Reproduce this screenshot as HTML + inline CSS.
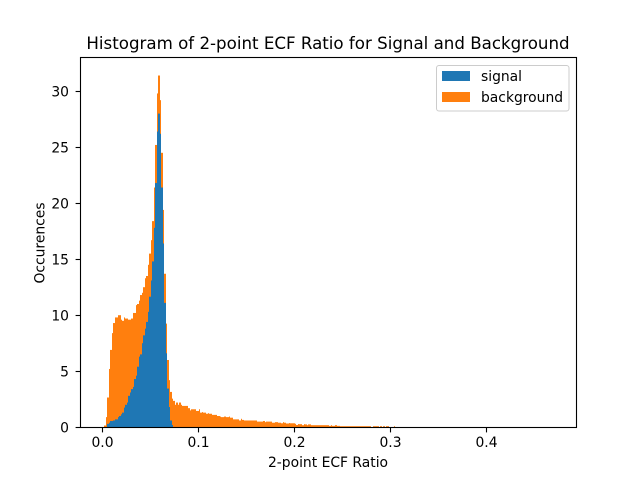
<!DOCTYPE html>
<html>
<head>
<meta charset="utf-8">
<title>Histogram of 2-point ECF Ratio</title>
<style>
html,body{margin:0;padding:0;background:#fff;width:640px;height:480px;overflow:hidden}
svg{display:block}
text{font-family:"DejaVu Sans","Liberation Sans",sans-serif;fill:#000}
</style>
</head>
<body>
<svg id="chart" xmlns="http://www.w3.org/2000/svg" width="640" height="480" viewBox="0 0 640 480">
  <rect x="0" y="0" width="640" height="480" fill="#fff"/>
  <g id="bars-background"></g>
  <g id="bars-signal"></g>
  <g id="axis-ticks"></g>
  <rect x="80.5" y="57.5" width="496" height="370" fill="none" stroke="#000" stroke-width="1.1"/>
  <text x="328" y="49" font-size="16.67" text-anchor="middle">Histogram of 2-point ECF Ratio for Signal and Background</text>
  <text x="328" y="467" font-size="13.89" text-anchor="middle">2-point ECF Ratio</text>
  <text transform="translate(44.5,243) rotate(-90)" font-size="13.89" text-anchor="middle">Occurences</text>
  <g>
    <rect x="436.5" y="65.5" width="132.5" height="45.5" rx="2.5" fill="#fff" fill-opacity="0.8" stroke="#ccc" stroke-width="1"/>
    <rect x="442" y="71" width="28" height="10" fill="#1f77b4"/>
    <text x="481" y="81" font-size="13.89">signal</text>
    <rect x="442" y="92" width="28" height="10" fill="#ff7f0e"/>
    <text x="481" y="102" font-size="13.89">background</text>
  </g>
</svg>
<script>
var binStart = 0.00198;
var binWidth = 0.0015625;
var xTickLabels = ["0.0", "0.1", "0.2", "0.3", "0.4"];
var yTickLabels = ["0", "5", "10", "15", "20", "25", "30"];
var signalValues = [0, 0, 0.3, 0.4, 0.55, 0.55, 0.6, 0.7, 0.7, 0.9, 1.0, 1.15, 1.3, 1.75, 2.0, 2.2, 2.8, 3.1, 3.4, 3.6, 4.3, 4.6, 5.4, 6.3, 6.5, 7.5, 8.2, 8.8, 9.4, 10.3, 11.65, 13.1, 14.8, 17.8, 21.8, 26.4, 28, 26.2, 21.4, 16.4, 11.1, 6.6, 3.45, 1.8, 0.6, 0.2];
var backgroundValues = [0.15, 0.9, 2.65, 5.2, 6.9, 8.4, 9.3, 9.8, 9.8, 10, 10, 9.6, 9.5, 9.8, 9.7, 9.7, 9.6, 9.6, 9.7, 10.2, 10.2, 10.9, 11, 11.3, 11.8, 12, 12.5, 13.3, 13.5, 14.5, 15.5, 16.7, 18.4, 21.4, 25.2, 29.8, 31.4, 29.2, 24.5, 19.4, 13.7, 9.25, 6, 4.2, 3.15, 2.55, 2.35, 2, 2.2, 2,
  2.2, 2.0, 1.9, 1.9, 1.9, 1.9, 1.7, 1.5, 1.6, 1.6, 1.6, 1.45, 1.45, 1.6, 1.3, 1.35, 1.3, 1.3, 1.2, 1.25, 1.2, 1.2, 1.1, 1.1, 1.1, 1, 1.0, 0.95, 0.9, 0.9, 0.95, 0.9, 0.9, 0.95, 0.85, 0.85, 0.7, 0.7, 0.7, 0.7, 0.6, 0.75, 0.65, 0.6, 0.6, 0.6, 0.6, 0.6, 0.6, 0.6, 0.6, 0.6, 0.5, 0.5, 0.5, 0.5, 0.55, 0.45, 0.5, 0.5, 0.5, 0.5, 0.4, 0.4, 0.45, 0.45, 0.4, 0.4, 0.35, 0.45, 0.4, 0.33, 0.33, 0.37, 0.35, 0.35, 0.35, 0.3, 0.2, 0.28, 0.27, 0.27, 0.18, 0.27, 0.25, 0.18, 0.25, 0.25, 0.18, 0.18, 0.18, 0.18, 0.18, 0.18, 0.18, 0.18, 0.18, 0.18, 0.18, 0.18, 0.12, 0.18, 0.12, 0.12, 0.18, 0.12, 0.12, 0.09, 0.09, 0.09, 0.09, 0.09, 0.09, 0.09, 0.09, 0.09, 0.09, 0.09, 0.09, 0.09, 0.09, 0.09, 0.09, 0.09, 0.09, 0.09, 0.09, 0.09, 0, 0.09, 0.09, 0.09, 0.09, 0, 0.09, 0, 0.09, 0, 0.09, 0.09, 0, 0, 0, 0.09];

var SVGNS = "http://www.w3.org/2000/svg";
function xScale(v) { return 102.5 + 960 * v; }
function yScale(v) { return 427.2 - 11.2 * v; }

function drawSeries(values, groupId, color) {
  var group = document.getElementById(groupId);
  for (var i = 0; i < values.length; i++) {
    if (values[i] <= 0) continue;
    var left = Math.round(xScale(binStart + i * binWidth));
    var right = Math.round(xScale(binStart + (i + 1) * binWidth));
    var top = yScale(values[i]);
    var bar = document.createElementNS(SVGNS, "rect");
    
    
    bar.setAttribute("x", left);
    bar.setAttribute("y", top);
    bar.setAttribute("width", right - left);
    bar.setAttribute("height", 427.5 - top);
    bar.setAttribute("fill", color);
    group.appendChild(bar);
  }
}

function drawTicks() {
  var group = document.getElementById("axis-ticks");
  xTickLabels.forEach(function (label) {
    var x = Math.floor(xScale(parseFloat(label))) + 0.5;
    var tick = document.createElementNS(SVGNS, "line");
    
    
    tick.setAttribute("x1", x);
    tick.setAttribute("x2", x);
    tick.setAttribute("y1", 427.5);
    tick.setAttribute("y2", 432.4);
    tick.setAttribute("stroke", "#000");
    tick.setAttribute("stroke-width", "1.1");
    group.appendChild(tick);
    var text = document.createElementNS(SVGNS, "text");
    
    
    text.setAttribute("x", x);
    text.setAttribute("y", 447);
    text.setAttribute("font-size", "13.89");
    text.setAttribute("text-anchor", "middle");
    text.textContent = label;
    group.appendChild(text);
  });
  yTickLabels.forEach(function (label) {
    var y = Math.floor(yScale(parseFloat(label))) + 0.5;
    var tick = document.createElementNS(SVGNS, "line");
    
    
    tick.setAttribute("x1", 75.6);
    tick.setAttribute("x2", 80.5);
    tick.setAttribute("y1", y);
    tick.setAttribute("y2", y);
    tick.setAttribute("stroke", "#000");
    tick.setAttribute("stroke-width", "1.1");
    group.appendChild(tick);
    var text = document.createElementNS(SVGNS, "text");
    
    
    text.setAttribute("x", 69);
    text.setAttribute("y", y + 5);
    text.setAttribute("font-size", "13.89");
    text.setAttribute("text-anchor", "end");
    text.textContent = label;
    group.appendChild(text);
  });
}

drawSeries(backgroundValues, "bars-background", "#ff7f0e");
drawSeries(signalValues, "bars-signal", "#1f77b4");
drawTicks();
</script>
</body>
</html>
